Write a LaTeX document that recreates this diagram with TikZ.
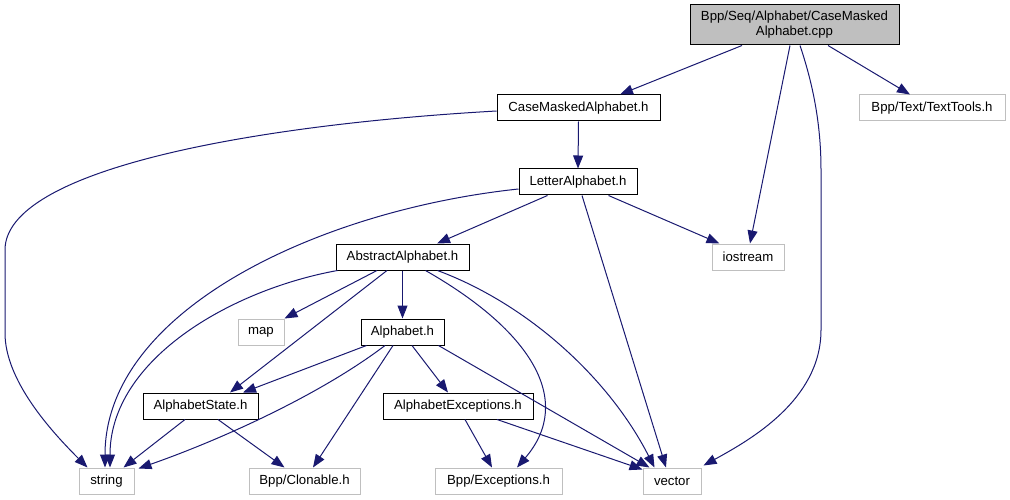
\documentclass[tikz,border=0pt]{standalone}
\usepackage{fontspec}
\setmainfont{Liberation Sans}
\usetikzlibrary{arrows.meta,calc}
\definecolor{edgeblue}{HTML}{191970}
\definecolor{greyb}{HTML}{BFBFBF}
\begin{document}
\begin{tikzpicture}[x=1pt,y=-1pt,
  font=\fontsize{13.2}{15}\selectfont,
  nd/.style={draw=black, fill=white, line width=1pt, inner sep=0pt, minimum height=26pt, align=center},
  ext/.style={nd, draw=greyb},
  e/.style={draw=edgeblue, line width=1pt, -{Triangle[length=13pt,width=10pt]}}]
\useasboundingbox (0,0) rectangle (1010,500);
% nodes
\node[nd, fill=greyb, minimum width=209pt, minimum height=40pt] (cpp) at (794.5,25) {Bpp/Seq/Alphabet/CaseMasked\\Alphabet.cpp};
\node[nd, minimum width=163pt] (cmah) at (578.5,108) {CaseMaskedAlphabet.h};
\node[ext, minimum width=146pt] (tt) at (932,108) {Bpp/Text/TextTools.h};
\node[nd, minimum width=118pt] (letter) at (578,182) {LetterAlphabet.h};
\node[nd, minimum width=133pt] (abs) at (402.5,257) {AbstractAlphabet.h};
\node[ext, minimum width=72pt] (ios) at (748,257) {iostream};
\node[ext, minimum width=46pt] (map) at (261,332) {map};
\node[nd, minimum width=83pt] (alpha) at (402.5,332) {Alphabet.h};
\node[nd, minimum width=115pt] (state) at (200.5,406) {AlphabetState.h};
\node[nd, minimum width=150pt] (aexc) at (458,406) {AlphabetExceptions.h};
\node[ext, minimum width=55pt] (str) at (106.5,481) {string};
\node[ext, minimum width=111pt] (clon) at (304.5,481) {Bpp/Clonable.h};
\node[ext, minimum width=127pt] (exc) at (498.5,481) {Bpp/Exceptions.h};
\node[ext, minimum width=58pt] (vec) at (672,481) {vector};
% edges from cpp
\draw[e] ($(cpp.south)+(-52.5,0)$) -- ($(cmah.north)+(41.5,0)$);
\draw[e] ($(cpp.south)+(33.5,0)$) -- ($(tt.north)+(-22,0)$);
\draw[e] ($(cpp.south)+(-4.5,0)$) -- ($(ios.north)+(2,0)$);
\draw[e] ($(cpp.south)+(5.5,0)$) .. controls (815,90) and (821,130) .. (821,170) -- (821,330) .. controls (821,400) and (750,440) .. ($(vec.north east)+(2,-2)$);
% CaseMaskedAlphabet.h
\draw[e] (cmah.south) -- (letter.north);
\draw[e] ($(cmah.west)+(0,3)$) .. controls (250,125) and (5,170) .. (5,250) -- (5,333) .. controls (5,380) and (50,430) .. ($(str.north west)+(9,0)$);
% LetterAlphabet.h
\draw[e] ($(letter.south west)+(29,0)$) -- ($(abs.north)+(34.5,0)$);
\draw[e] ($(letter.south east)+(-29,0)$) -- ($(ios.north west)+(8,0)$);
\draw[e] ($(letter.south)+(4,0)$) -- ($(vec.north)+(-6,0)$);
\draw[e] ($(letter.west)+(0,7)$) .. controls (320,210) and (105,310) .. ($(str.north)+(-1.5,0)$);
% AbstractAlphabet.h
\draw[e] ($(abs.south)+(-25.5,0)$) -- (map.north east);
\draw[e] (abs.south) -- (alpha.north);
\draw[e] ($(abs.south)+(-15.5,0)$) -- ($(state.north)+(29.5,0)$);
\draw[e] ($(abs.south west)+(2,0)$) .. controls (230,290) and (110,360) .. ($(str.north)+(3.5,0)$);
\draw[e] ($(abs.south east)+(-44,0)$) .. controls (530,330) and (575,400) .. ($(exc.north)+(18.5,0)$);
\draw[e] ($(abs.south east)+(-32,0)$) .. controls (530,305) and (610,380) .. ($(vec.north west)+(12,0)$);
% Alphabet.h
\draw[e] ($(alpha.south west)+(6,0)$) -- ($(state.north)+(42.5,0)$);
\draw[e] ($(alpha.south)+(9.5,0)$) -- ($(aexc.north)+(-10,0)$);
\draw[e] ($(alpha.south)+(-17.5,0)$) .. controls (320,395) and (220,440) .. ($(str.north east)+(4,1)$);
\draw[e] ($(alpha.south)+(-9.5,0)$) -- ($(clon.north)+(8.5,0)$);
\draw[e] ($(alpha.south east)+(-6,0)$) -- ($(vec.north west)+(7,0)$);
% AlphabetState.h
\draw[e] ($(state.south)+(-15.5,0)$) -- ($(str.north east)+(-11,0)$);
\draw[e] ($(state.south)+(17.5,0)$) -- ($(clon.north west)+(36,0)$);
% AlphabetExceptions.h
\draw[e] ($(aexc.south)+(7,0)$) -- ($(exc.north)+(-6.5,0)$);
\draw[e] ($(aexc.south)+(39,0)$) -- ($(vec.north west)+(0,2)$);
\end{tikzpicture}
\end{document}
